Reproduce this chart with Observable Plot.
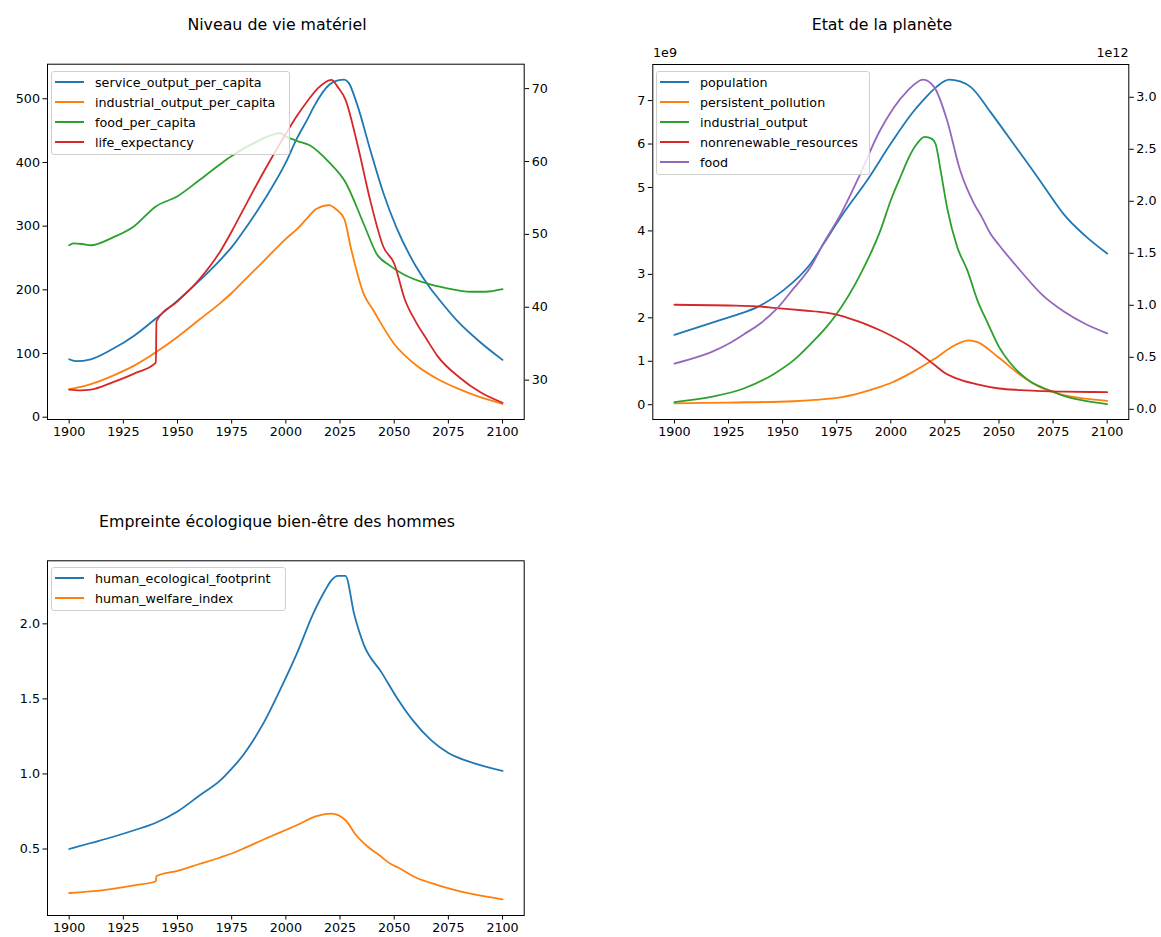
<!DOCTYPE html>
<html>
<head>
<meta charset="utf-8">
<script src="https://cdn.jsdelivr.net/npm/d3@7"></script>
<script src="https://cdn.jsdelivr.net/npm/@observablehq/plot@0.6"></script>
<style>
  html, body { margin: 0; padding: 0; background: #fff; }
  #root { position: relative; width: 1161px; height: 937px; overflow: hidden; background: #fff; font-family: "DejaVu Sans", sans-serif; }
  .panel { position: absolute; }
  .title { position: absolute; font-size: 15.8px; color: #000; white-space: nowrap; transform: translate(-50%, -50%); }
  .offset { position: absolute; font-size: 12.7px; color: #000; white-space: nowrap; }
  .legend { position: absolute; box-sizing: border-box; border: 1px solid #cfcfcf; border-radius: 3px; background: rgba(255,255,255,0.8); font-size: 12.7px; color: #000; }
  .legend .row { position: absolute; left: 0; height: 20px; display: flex; align-items: center; white-space: nowrap; }
  .legend .sw { display: inline-block; width: 29px; height: 2px; margin-left: 3px; margin-right: 11px; }
</style>
</head>
<body>
<div id="root"></div>
<script>
// ---------- data ----------
const xTicks = [1900, 1925, 1950, 1975, 2000, 2025, 2050, 2075, 2100];

// Panel 1 : Niveau de vie matériel
const serviceYears = [1900,1903,1910,1920,1930,1940,1950,1960,1970,1975,1980,1990,2000,2005,2010,2013,2020,2024,2027,2029,2033,2039,2045,2051,2060,2067,2070,2080,2090,2100];
const serviceValues = [91,88,91,107,128,155,183,214,248,267,290,341,400,437,468,488,522,529,530,525,490,419,352,298,237,201,188,148,117,90];
const industrialPcYears = [1900,1910,1920,1930,1940,1950,1960,1970,1975,1980,1990,2000,2005,2010,2014,2020,2023,2027,2030,2036,2040,2050,2060,2070,2080,2090,2100];
const industrialPcValues = [44,52,65,81,102,126,153,180,195,212,246,280,295,313,327,333,327,311,266,193,170,115,82,60,44,31,21];
const foodPcYears = [1900,1902,1906,1910,1920,1930,1940,1950,1960,1970,1975,1985,1997.5,2000,2005,2011,2020,2027.5,2036,2042,2048,2054,2065,2075,2085,2092,2100];
const foodPcValues = [270,273,272,270,282,300,331,347,372,398,410,430,446,441,434,427,400,369,303,256,238,225,210,202,197,197,201];
const lifeYears = [1900,1905,1910,1920,1930,1940,1940.3,1950,1960,1970,1975,1980,1990,2000,2005,2010,2015,2021,2024,2027.5,2033,2039,2045,2050,2055,2060,2065,2070,2080,2090,2100];
const lifeValues = [28.7,28.6,28.7,29.7,30.9,32.4,38.1,40.8,43.8,47.8,50.4,53.2,58.7,63.8,66.2,68.3,70.1,71.2,70.2,68.5,62.4,54.6,48.3,46.0,41.0,38.0,35.6,33.3,30.4,28.3,26.9];
const p1LeftTicks = [0, 100, 200, 300, 400, 500];
const p1RightTicks = [30, 40, 50, 60, 70];

// Panel 2 : Etat de la planète (left in 1e9, right in 1e12)
const popYears = [1900,1910,1920,1930,1938,1950,1963,1969,1978,1989,2000,2010,2015,2021,2027,2032,2037,2046,2050,2060,2070,2075,2080,2090,2100];
const popValues = [1.61,1.77,1.93,2.09,2.24,2.62,3.25,3.71,4.40,5.16,6.01,6.72,7.01,7.31,7.48,7.44,7.31,6.74,6.47,5.78,5.08,4.72,4.38,3.88,3.48];
const pollYears = [1900,1925,1955,1965,1978,1990,1995,2000,2010,2020,2030,2036,2040,2050,2060,2070,2080,2090,2100];
const pollValues = [0.03,0.05,0.08,0.11,0.18,0.33,0.41,0.50,0.75,1.05,1.38,1.48,1.44,1.08,0.68,0.38,0.22,0.14,0.09];
const indYears = [1900,1917,1932,1946,1955,1963,1970.6,1974.7,1986,1995.2,2000,2005,2008.3,2012,2015.6,2019,2020.7,2023,2026,2030.7,2035.3,2040,2045,2050,2055,2060,2065,2070,2075,2080,2090,2100];
const indValues = [0.07,0.12,0.20,0.34,0.47,0.63,0.80,0.91,1.30,1.72,2.01,2.26,2.42,2.55,2.62,2.60,2.55,2.30,1.94,1.56,1.34,1.05,0.82,0.60,0.45,0.34,0.26,0.21,0.17,0.13,0.08,0.05];
const resYears = [1900,1925,1938,1947,1960,1970,1975,1980,1985,1990,1995,2000,2010,2020,2025,2030,2040,2050,2060,2070,2080,2100];
const resValues = [1.005,0.998,0.99,0.973,0.95,0.93,0.91,0.88,0.845,0.805,0.76,0.71,0.59,0.43,0.35,0.30,0.24,0.20,0.185,0.175,0.17,0.165];
const foodYears = [1900,1910,1917,1925,1932,1940,1947,1955,1963,1969,1977,1984.5,1995,2007.6,2015,2020,2026,2032,2038.4,2042,2046,2050,2060,2070,2080,2090,2100];
const foodValues = [0.44,0.50,0.55,0.63,0.72,0.83,0.96,1.16,1.37,1.60,1.88,2.20,2.68,3.06,3.17,3.10,2.78,2.30,1.98,1.85,1.69,1.58,1.33,1.10,0.94,0.82,0.73];
const p2LeftTicks = [0, 1, 2, 3, 4, 5, 6, 7];
const p2RightTicks = [0, 0.5, 1.0, 1.5, 2.0, 2.5, 3.0];

// Panel 3 : Empreinte écologique
const footYears = [1900,1910,1920,1930,1940,1950,1960,1970,1975,1980,1985,1990,1998,2005,2013,2018,2021,2024,2027.5,2031.6,2036,2044,2051.6,2059,2067,2075,2085,2100];
const footValues = [0.50,0.54,0.58,0.625,0.675,0.75,0.855,0.96,1.035,1.12,1.225,1.347,1.58,1.80,2.08,2.22,2.29,2.32,2.32,2.06,1.86,1.68,1.50,1.35,1.225,1.14,1.08,1.02];
const welfYears = [1900,1910,1920,1930,1940,1940.3,1950,1960,1970,1975,1980,1990,2005,2014.6,2021,2027.7,2032,2038,2043,2048.5,2052,2060,2070,2080,2090,2100];
const welfValues = [0.207,0.218,0.235,0.258,0.285,0.32,0.355,0.40,0.445,0.47,0.50,0.565,0.658,0.72,0.736,0.69,0.60,0.513,0.46,0.40,0.375,0.31,0.26,0.22,0.19,0.165];
const p3Ticks = [0.5, 1.0, 1.5, 2.0];

const C = {blue: "#1f77b4", orange: "#ff7f0e", green: "#2ca02c", red: "#d62728", purple: "#9467bd"};

// ---------- helpers ----------
const root = document.getElementById("root");
function rows(years, values) { return years.map((y, i) => ({year: y, value: values[i]})); }

function panel({left, top, width, height, mt, mb, ml, mr, yDomain, rDomain, leftTicks, leftFmt, rightTicks, rightFmt, series}) {
  const [L0, L1] = yDomain;
  const toLeft = rDomain ? (v => L0 + (v - rDomain[0]) * (L1 - L0) / (rDomain[1] - rDomain[0])) : null;
  const marks = [];
  for (const s of series) {
    const data = rows(s.years, s.values).map(d => ({year: d.year, value: s.right ? toLeft(d.value) : d.value}));
    marks.push(Plot.line(data, {x: "year", y: "value", stroke: s.color, strokeWidth: 1.8, curve: "monotone-x"}));
  }
  marks.push(Plot.axisX(xTicks, {tickSize: 4.5, tickPadding: 3, tickFormat: d => String(d), label: null}));
  marks.push(Plot.axisY(leftTicks, {anchor: "left", tickSize: 4.5, tickPadding: 3, tickFormat: leftFmt, label: null}));
  if (rightTicks) {
    const mapped = rightTicks.map(toLeft);
    marks.push(Plot.axisY(mapped, {anchor: "right", tickSize: 4.5, tickPadding: 3,
      tickFormat: (d) => rightFmt(rightTicks[mapped.indexOf(d)]), label: null}));
  }
  marks.push(Plot.frame({stroke: "#000", strokeWidth: 1}));
  const svg = Plot.plot({
    width, height, marginTop: mt, marginBottom: mb, marginLeft: ml, marginRight: mr,
    x: {domain: [1890, 2110]},
    y: {domain: yDomain},
    style: {fontFamily: "DejaVu Sans", fontSize: "12.7px", color: "#000", background: "transparent", overflow: "visible"},
    marks
  });
  svg.classList.add("panel");
  svg.style.left = left + "px";
  svg.style.top = top + "px";
  root.appendChild(svg);
}

function title(text, cx, cy) {
  const d = document.createElement("div");
  d.className = "title"; d.textContent = text;
  d.style.left = cx + "px"; d.style.top = cy + "px";
  root.appendChild(d);
}
function offsetLabel(text, x, y, alignRight) {
  const d = document.createElement("div");
  d.className = "offset"; d.textContent = text;
  if (alignRight) { d.style.right = (1161 - x) + "px"; } else { d.style.left = x + "px"; }
  d.style.top = y + "px";
  root.appendChild(d);
}
function legend(entries, left, top, width) {
  const d = document.createElement("div");
  d.className = "legend";
  d.style.left = left + "px"; d.style.top = top + "px"; d.style.width = width + "px";
  d.style.height = (entries.length * 20 + 3.5) + "px";
  entries.forEach((e, i) => {
    const r = document.createElement("div");
    r.className = "row"; r.style.top = (i * 20) + "px";
    const sw = document.createElement("span"); sw.className = "sw"; sw.style.background = e.color;
    const t = document.createElement("span"); t.textContent = e.name;
    r.appendChild(sw); r.appendChild(t); d.appendChild(r);
  });
  root.appendChild(d);
}

// ---------- panel 1 ----------
panel({
  left: 0, top: 0, width: 580, height: 460, mt: 63.7, mb: 41, ml: 47, mr: 56.3,
  yDomain: [-3.6, 554.3], rDomain: [24.6, 73.35],
  leftTicks: p1LeftTicks, leftFmt: d => String(d),
  rightTicks: p1RightTicks, rightFmt: d => String(d),
  series: [
    {years: serviceYears, values: serviceValues, color: C.blue},
    {years: industrialPcYears, values: industrialPcValues, color: C.orange},
    {years: foodPcYears, values: foodPcValues, color: C.green},
    {years: lifeYears, values: lifeValues, color: C.red, right: true}
  ]
});
title("Niveau de vie matériel", 277, 24);
legend([
  {name: "service_output_per_capita", color: C.blue},
  {name: "industrial_output_per_capita", color: C.orange},
  {name: "food_per_capita", color: C.green},
  {name: "life_expectancy", color: C.red}
], 51, 71, 239);

// ---------- panel 2 ----------
panel({
  left: 600, top: 0, width: 561, height: 460, mt: 64, mb: 41, ml: 52.3, mr: 32.7,
  yDomain: [-0.34, 7.83], rDomain: [-0.098, 3.315],
  leftTicks: p2LeftTicks, leftFmt: d => String(d),
  rightTicks: p2RightTicks, rightFmt: d => d.toFixed(1),
  series: [
    {years: popYears, values: popValues, color: C.blue},
    {years: pollYears, values: pollValues, color: C.orange},
    {years: indYears, values: indValues, color: C.green, right: true},
    {years: resYears, values: resValues, color: C.red, right: true},
    {years: foodYears, values: foodValues, color: C.purple, right: true}
  ]
});
title("Etat de la planète", 882, 24);
offsetLabel("1e9", 653, 45);
offsetLabel("1e12", 1128.5, 45, true);
legend([
  {name: "population", color: C.blue},
  {name: "persistent_pollution", color: C.orange},
  {name: "industrial_output", color: C.green},
  {name: "nonrenewable_resources", color: C.red},
  {name: "food", color: C.purple}
], 656, 71, 214);

// ---------- panel 3 ----------
panel({
  left: 0, top: 500, width: 580, height: 437, mt: 60.3, mb: 22, ml: 47, mr: 56.3,
  yDomain: [0.057, 2.42], rDomain: null,
  leftTicks: p3Ticks, leftFmt: d => d.toFixed(1),
  rightTicks: null,
  series: [
    {years: footYears, values: footValues, color: C.blue},
    {years: welfYears, values: welfValues, color: C.orange}
  ]
});
title("Empreinte écologique bien-être des hommes", 277, 521);
legend([
  {name: "human_ecological_footprint", color: C.blue},
  {name: "human_welfare_index", color: C.orange}
], 51, 567, 235);
</script>
</body>
</html>
